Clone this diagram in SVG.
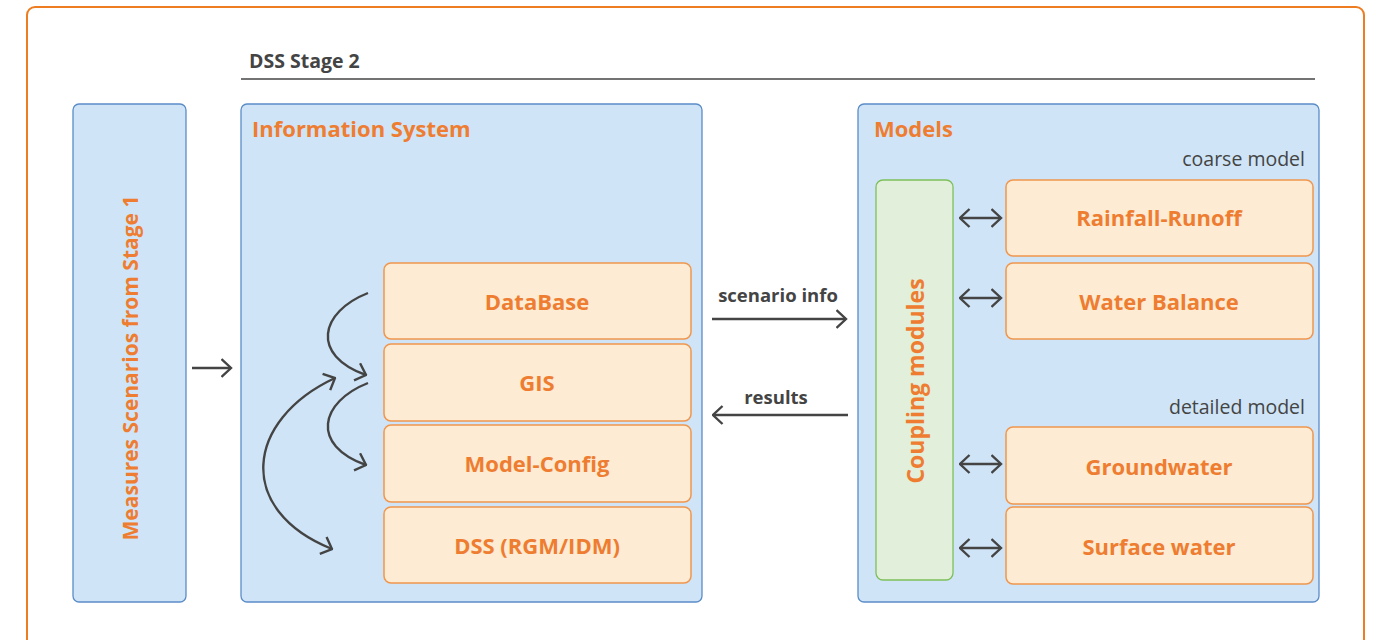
<svg xmlns="http://www.w3.org/2000/svg" width="1376" height="640" viewBox="0 0 1376 640">
<defs>
<style>
.frame{fill:#fff;stroke:#EE7D22;stroke-width:2}
.blue{fill:#CFE4F7;stroke:#5B8CC8;stroke-width:1.3}
.org{fill:#FDEBD3;stroke:#F0964E;stroke-width:1.5}
.grn{fill:#E2EFDA;stroke:#7DC05A;stroke-width:1.3}
.t{font-family:"Open Sans","Noto Sans",sans-serif;font-weight:700;fill:#EE7D31}
.title{font-size:22px}
.lbl{font-size:22px;text-anchor:middle}
.dark{font-family:"Open Sans","Noto Sans",sans-serif;fill:#444;font-size:19.5px}
.b{font-weight:700;font-size:18.5px}
.ln{fill:none;stroke:#444;stroke-width:2.4}
</style>
<marker id="ah" viewBox="0 0 12 20" refX="10.5" refY="10" markerWidth="12" markerHeight="20" markerUnits="userSpaceOnUse" orient="auto-start-reverse">
<path d="M1,1 L10.5,10 L1,19" fill="none" stroke="#444" stroke-width="2.4"/>
</marker>
</defs>
<rect class="frame" x="27" y="7" width="1337" height="660" rx="8"/>
<g id="stage2-label">
<text class="dark b" x="249" y="68" style="font-size:19.5px">DSS Stage 2</text>
<line x1="241" y1="79" x2="1315" y2="79" stroke="#444" stroke-width="1.5"/>
</g>
<g id="measures">
<rect class="blue" x="73" y="104" width="113" height="498" rx="6"/>
<text class="t" font-size="21" text-anchor="middle" transform="translate(138,368) rotate(-90)">Measures Scenarios from Stage 1</text>
</g>
<g id="infosys">
<rect class="blue" x="241" y="104" width="461" height="498" rx="6"/>
<text class="t title" x="252" y="137">Information System</text>
</g>
<g id="database"><rect class="org" x="384" y="263" width="307" height="76" rx="7"/><text class="t lbl" x="537" y="310">DataBase</text></g>
<g id="gis"><rect class="org" x="384" y="344" width="307" height="77" rx="7"/><text class="t lbl" x="537" y="391">GIS</text></g>
<g id="modelconfig"><rect class="org" x="384" y="425" width="307" height="77" rx="7"/><text class="t lbl" x="537" y="472">Model-Config</text></g>
<g id="dss"><rect class="org" x="384" y="507" width="307" height="76" rx="7"/><text class="t lbl" x="537" y="554">DSS (RGM/IDM)</text></g>
<g id="models">
<rect class="blue" x="858" y="104" width="461" height="498" rx="6"/>
<text class="t title" x="874" y="137">Models</text>
<text class="dark" x="1305" y="166" text-anchor="end">coarse model</text>
<text class="dark" x="1305" y="414" text-anchor="end">detailed model</text>
</g>
<g id="coupling"><rect class="grn" x="876" y="180" width="77" height="400" rx="7"/><text class="t" font-size="23" text-anchor="middle" transform="translate(924,381) rotate(-90)">Coupling modules</text></g>
<g id="rainfall"><rect class="org" x="1006" y="180" width="307" height="76" rx="7"/><text class="t lbl" x="1159" y="226">Rainfall-Runoff</text></g>
<g id="waterbalance"><rect class="org" x="1006" y="263" width="307" height="76" rx="7"/><text class="t lbl" x="1159" y="310">Water Balance</text></g>
<g id="groundwater"><rect class="org" x="1006" y="427" width="307" height="77" rx="7"/><text class="t lbl" x="1159" y="475">Groundwater</text></g>
<g id="surface"><rect class="org" x="1006" y="507" width="307" height="77" rx="7"/><text class="t lbl" x="1159" y="555">Surface water</text></g>
<g id="connectors">
<line class="ln" x1="192" y1="368" x2="231" y2="368" marker-end="url(#ah)"/>
<path class="ln" d="M368,293 C320,312 310,355 366,375" marker-end="url(#ah)"/>
<path class="ln" d="M368,383 C320,402 310,445 366,465" marker-end="url(#ah)"/>
<path class="ln" d="M335,378 C245,420 235,510 332,549" marker-start="url(#ah)" marker-end="url(#ah)"/>
<text class="dark b" x="778" y="302" text-anchor="middle">scenario info</text>
<line class="ln" x1="712" y1="319" x2="846" y2="319" marker-end="url(#ah)"/>
<text class="dark b" x="776" y="404" text-anchor="middle">results</text>
<line class="ln" x1="848" y1="415" x2="713" y2="415" marker-end="url(#ah)"/>
<line class="ln" x1="960" y1="218" x2="1001" y2="218" marker-start="url(#ah)" marker-end="url(#ah)"/>
<line class="ln" x1="960" y1="298" x2="1001" y2="298" marker-start="url(#ah)" marker-end="url(#ah)"/>
<line class="ln" x1="960" y1="464" x2="1001" y2="464" marker-start="url(#ah)" marker-end="url(#ah)"/>
<line class="ln" x1="960" y1="548" x2="1001" y2="548" marker-start="url(#ah)" marker-end="url(#ah)"/>
</g>
</svg>
